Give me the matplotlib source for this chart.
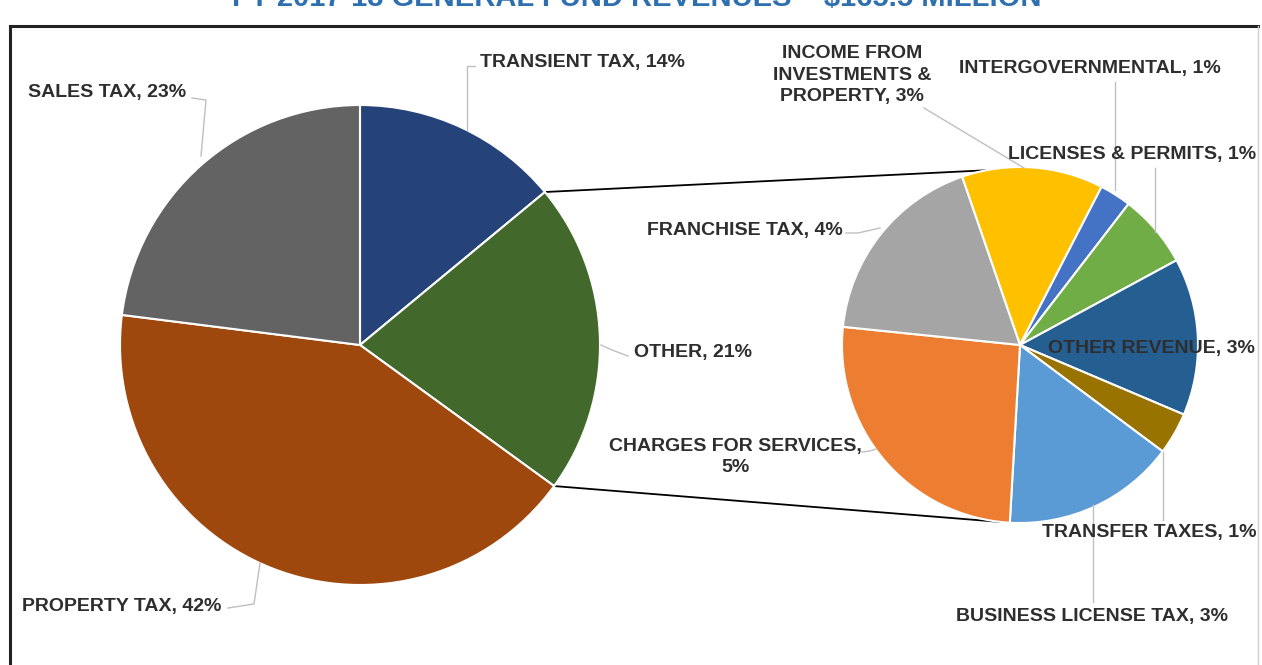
"""
General fund revenues, pie-of-pie breakdown
"""
import numpy as np
import matplotlib.pyplot as plt

W, H = 1262, 665

### main pie
main_labels = ['TRANSIENT TAX', 'OTHER', 'PROPERTY TAX', 'SALES TAX']
main_colors = ['#254379', '#43682B', '#9E480E', '#636363']

### breakdown of OTHER
sub_labels = ['INCOME FROM\nINVESTMENTS &\nPROPERTY', 'INTERGOVERNMENTAL', 'LICENSES & PERMITS',
              'OTHER REVENUE', 'TRANSFER TAXES', 'BUSINESS LICENSE TAX',
              'CHARGES FOR SERVICES,\n', 'FRANCHISE TAX']
sub_values = [2.7, 0.6, 1.4, 3.0, 0.8, 3.3, 5.4, 3.8]
sub_colors = ['#FFC000', '#4472C4', '#70AD47', '#255E91', '#997300', '#5B9BD5', '#ED7D31', '#A5A5A5']

main_values = [14.0, sum(sub_values), 42.0, 23.0]

title = 'FY 2017-18 GENERAL FUND REVENUES \u2013 $165.5 MILLION'

def Y(p):
    # pixel row -> axes y
    return H - p

fig = plt.figure(figsize=(W / 100, H / 100), dpi=100)
ax = fig.add_axes([0, 0, 1, 1])

c1, r1 = (360, Y(345)), 240
c2, r2 = (1020, Y(345)), 178

w1, _ = ax.pie(main_values, colors=main_colors, startangle=90, counterclock=False,
               center=c1, radius=r1, wedgeprops=dict(edgecolor='white', linewidth=1.5))
w2, _ = ax.pie(sub_values, colors=sub_colors, startangle=109, counterclock=False,
               center=c2, radius=r2, wedgeprops=dict(edgecolor='white', linewidth=1.5))

ax.set_xlim(0, W)
ax.set_ylim(0, H)
ax.set_aspect('equal')
ax.axis('off')

### connector lines between the OTHER slice and the second pie
other = w1[1]
for a1, a2 in [(other.theta2, 101), (other.theta1, -96)]:
    p1 = (c1[0] + r1 * np.cos(np.radians(a1)), c1[1] + r1 * np.sin(np.radians(a1)))
    p2 = (c2[0] + r2 * np.cos(np.radians(a2)), c2[1] + r2 * np.sin(np.radians(a2)))
    ax.plot([p1[0], p2[0]], [p1[1], p2[1]], color='black', lw=1.3, zorder=0)

txt = dict(fontsize=14, fontweight='bold', color='#2E2E2E', family='Liberation Sans')
lead = dict(color='#BFBFBF', lw=1)

def label(s, v, x, y, ha='left', line=None):
    ax.text(x, Y(y), f'{s}, {v:.0f}%', ha=ha, va='center', **txt)
    if line:
        xs, ys = zip(*line)
        ax.plot(xs, [Y(p) for p in ys], **lead)

# main pie labels
label(main_labels[0], main_values[0], 480, 62, line=[(475, 66), (467, 66), (467, 130)])
label(main_labels[1], main_values[1], 634, 352, line=[(628, 356), (612, 350), (601, 345)])
label(main_labels[2], main_values[2], 22, 606, line=[(228, 608), (254, 604), (260, 563)])
label(main_labels[3], main_values[3], 28, 92, line=[(192, 98), (206, 100), (201, 156)])

# sub pie labels
ax.text(852, Y(75), f'{sub_labels[0]}, {sub_values[0]:.0f}%', ha='center', va='center',
        linespacing=1.35, **txt)
ax.plot([924, 1024], [Y(108), Y(168)], **lead)
label(sub_labels[1], sub_values[1], 1090, 68, ha='center', line=[(1115, 82), (1115, 190)])
label(sub_labels[2], sub_values[2], 1256, 155, ha='right', line=[(1155, 168), (1155, 232)])
label(sub_labels[3], sub_values[3], 1255, 348, ha='right')
label(sub_labels[4], sub_values[4], 1256, 532, ha='right', line=[(1163, 452), (1163, 520)])
label(sub_labels[5], sub_values[5], 1092, 617, ha='center', line=[(1093, 505), (1093, 602)])
ax.text(735, Y(457), f'{sub_labels[6]}{sub_values[6]:.0f}%', ha='center', va='center',
        linespacing=1.35, **txt)
ax.plot([862, 870, 876], [Y(452), Y(451), Y(449)], **lead)
label(sub_labels[7], sub_values[7], 647, 230, line=[(846, 233), (858, 233), (880, 228)])

### frame and clipped title
ax.plot([10, 10], [0, Y(26)], color='#222222', lw=2.2)
ax.plot([10, 1258], [Y(26), Y(26)], color='#222222', lw=2.2)
ax.plot([1258, 1258], [0, Y(26)], color='#D0D0D0', lw=1)
ax.text(637, Y(6), title, ha='center', va='baseline', fontsize=21, fontweight='bold',
        color='#2E6FB0', family='Liberation Sans')

fig.savefig('out.png', dpi=100)
